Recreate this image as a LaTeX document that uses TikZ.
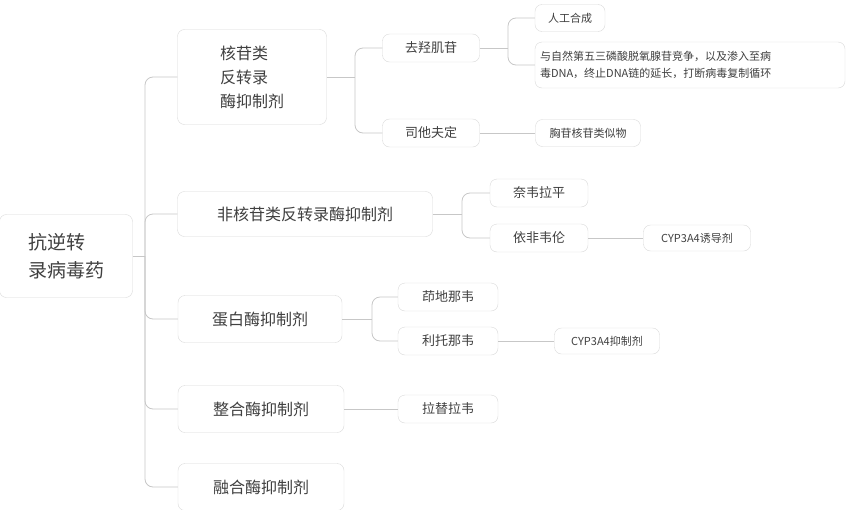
\documentclass[tikz,border=0pt]{standalone}
\usepackage{fontspec}
\setmainfont{Noto Sans CJK SC}
\begin{document}
\begin{tikzpicture}[x=1pt,y=-1pt,
  bx/.style={draw=black!15,fill=white,rounded corners=7pt,text=black!75,inner sep=0pt,anchor=center},
  lA/.style={bx,font=\fontsize{16}{24}\selectfont,align=left},
  lB/.style={bx,font=\fontsize{13}{16}\selectfont},
  lC/.style={bx,font=\fontsize{11}{17}\selectfont,align=left},
  ln/.style={draw=black!22,line width=0.8pt,rounded corners=8pt}]
\useasboundingbox (0,0) rectangle (867,509);
\node[lA,minimum width=133pt,minimum height=83pt,font=\fontsize{19}{28}\selectfont] (root) at (66,256) {抗逆转\\录病毒药};
\node[lA,minimum width=149pt,minimum height=95pt] (a1) at (252,77) {核苷类\\反转录\\酶抑制剂};
\node[lA,minimum width=255pt,minimum height=45pt] (a2) at (305,214) {非核苷类反转录酶抑制剂};
\node[lA,minimum width=164pt,minimum height=47pt] (a3) at (260,319) {蛋白酶抑制剂};
\node[lA,minimum width=166pt,minimum height=47pt] (a4) at (261,409) {整合酶抑制剂};
\node[lA,minimum width=166pt,minimum height=47pt] (a5) at (261,487) {融合酶抑制剂};
\coordinate (t) at (145,256);
\draw[ln] (root.east) -- (t);
\foreach \n in {a1,a2,a3,a4,a5} \draw[ln] (t) |- (\n.west);
% level 2
\node[lB,minimum width=97pt,minimum height=28pt] (b1) at (431,48) {去羟肌苷};
\node[lB,minimum width=97pt,minimum height=28pt] (b2) at (431,133) {司他夫定};
\node[lB,minimum width=98pt,minimum height=28pt] (b3) at (539,193) {奈韦拉平};
\node[lB,minimum width=98pt,minimum height=28pt] (b4) at (539,238) {依非韦伦};
\node[lB,minimum width=100pt,minimum height=28pt] (b5) at (448,297) {茚地那韦};
\node[lB,minimum width=100pt,minimum height=28pt] (b6) at (448,341) {利托那韦};
\node[lB,minimum width=100pt,minimum height=28pt] (b7) at (448,409) {拉替拉韦};
\coordinate (s1) at (355,77); \draw[ln] (a1.east) -- (s1);
\draw[ln] (s1) |- (b1.west); \draw[ln] (s1) |- (b2.west);
\coordinate (s2) at (462,214); \draw[ln] (a2.east) -- (s2);
\draw[ln] (s2) |- (b3.west); \draw[ln] (s2) |- (b4.west);
\coordinate (s3) at (372,319); \draw[ln] (a3.east) -- (s3);
\draw[ln] (s3) |- (b5.west); \draw[ln] (s3) |- (b6.west);
\draw[ln] (a4.east) -- (b7.west);
% level 3
\node[lC,minimum width=70pt,minimum height=27pt] (c1) at (570,18) {人工合成};
\node[lC,minimum width=310pt,minimum height=46pt,text width=300pt] (c2) at (690,65) {与自然第五三磷酸脱氧腺苷竞争，以及渗入至病\\毒DNA，终止DNA链的延长，打断病毒复制循环};
\node[lC,minimum width=105pt,minimum height=27pt] (c3) at (588,133) {胸苷核苷类似物};
\node[lC,minimum width=107pt,minimum height=26pt] (c4) at (697,238) {CYP3A4诱导剂};
\node[lC,minimum width=105pt,minimum height=26pt] (c5) at (607,341) {CYP3A4抑制剂};
\coordinate (s4) at (508,48); \draw[ln] (b1.east) -- (s4);
\draw[ln] (s4) |- (c1.west); \draw[ln] (s4) |- (c2.west);
\draw[ln] (b2.east) -- (c3.west);
\draw[ln] (b4.east) -- (c4.west);
\draw[ln] (b6.east) -- (c5.west);
\end{tikzpicture}
\end{document}
